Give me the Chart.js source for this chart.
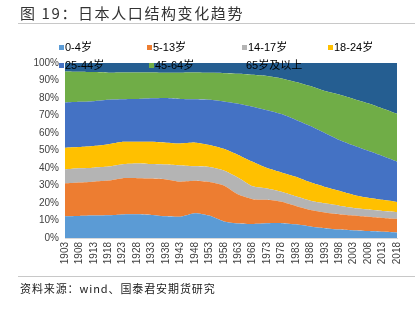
<!DOCTYPE html>
<html>
<head>
<meta charset="utf-8">
<script src="https://cdn.jsdelivr.net/npm/chart.js@4"></script>
<style>
    body { margin: 0; background: #ffffff; }
    #wrap { position: relative; width: 419px; height: 329px; overflow: hidden; }
    #title { position: absolute; left: 20px; top: 2px; font: 15px "Noto Sans CJK SC", sans-serif; color: #333333; letter-spacing: 1.6px; white-space: nowrap; }
    #topLine { position: absolute; left: 18px; top: 23px; width: 397px; height: 1px; background: #c8c8c8; }
    #bottomLine { position: absolute; left: 18px; top: 276px; width: 397px; height: 1px; background: #c8c8c8; }
    #source { position: absolute; left: 20px; top: 280px; font: 11px "Noto Sans CJK SC", sans-serif; color: #222222; letter-spacing: 0.9px; white-space: nowrap; }
    canvas { position: absolute; left: 0; top: 0; }
</style>
</head>
<body>
<div id="wrap">
    <canvas id="popChart" width="419" height="329"></canvas>
    <div id="title">图 19：日本人口结构变化趋势</div>
    <div id="topLine"></div>
    <div id="bottomLine"></div>
    <div id="source">资料来源：wind、国泰君安期货研究</div>
</div>
<script>
const years = ['1903','1908','1913','1918','1923','1928','1933','1938','1943','1948','1953','1958',
    '1963','1968','1973','1978','1983','1988','1993','1998','2003','2008','2013','2018']

const seriesNames = ['0-4岁', '5-13岁', '14-17岁', '18-24岁', '25-44岁', '45-64岁', '65岁及以上']

const age0to4 = [12.4,12.6,12.8,13.0,13.5,13.6,13.2,12.4,12.2,14.2,12.8,9.5,8.3,8.0,8.4,8.5,7.8,6.6,5.6,4.8,4.3,4.0,3.6,3.2]
const age5to13 = [18.8,19.1,19.4,19.8,20.7,20.6,20.8,21.1,20.0,18.5,19.2,20.5,16.5,14.2,13.4,12.2,10.5,9.4,9.0,8.8,8.5,8.1,7.9,7.8]
const age14to17 = [8.0,8.1,8.0,8.0,8.0,8.4,8.3,8.5,9.3,8.3,8.6,8.6,9.7,7.4,6.5,5.7,5.5,5.3,5.2,4.9,4.4,4.2,4.0,3.9]
const age18to24 = [12.4,12.2,12.4,12.8,12.8,12.4,12.7,12.5,12.5,13.5,12.6,12.4,13.0,14.0,11.7,11.1,11.2,10.5,9.4,8.5,7.4,6.7,6.3,5.7]
const age25to44 = [25.8,25.8,25.6,25.4,24.3,24.4,24.8,25.5,25.5,24.8,25.8,27.0,29.2,31.4,33.0,33.3,32.5,32.2,30.8,29.0,28.2,26.8,25.0,23.0]
const age45to64 = [17.8,17.2,16.6,15.5,15.3,15.2,14.8,14.4,15.0,15.3,15.4,16.2,17.2,18.3,19.6,20.4,21.7,22.8,24.0,26.0,26.7,27.2,27.2,27.4]
const age65plus = [4.8,5.0,5.2,5.5,5.4,5.4,5.4,5.6,5.5,5.4,5.6,5.8,6.1,6.7,7.4,8.8,10.8,13.2,16.0,18.0,20.5,23.0,26.0,29.0]

const yTicks = [0, 10, 20, 30, 40, 50, 60, 70, 80, 90, 100]

const allSeries = [age0to4, age5to13, age14to17, age18to24, age25to44, age45to64, age65plus]
const colors = ['#5b9bd5', '#ed7d31', '#b4b4b4', '#ffc000', '#4472c4', '#70ad47', '#255e91']

// legend drawn by hand, excel puts it in a fixed grid
const legendSpots = [[59, 48], [147, 48], [242, 48], [328, 48], [59, 66], [149, 66], [240, 66]]

const gridLegend = {
    id: 'gridLegend',
    afterDraw(chart) {
        var ctx = chart.ctx
        ctx.save()
        ctx.font = '11px "Liberation Sans", "Noto Sans CJK SC", sans-serif'
        ctx.textBaseline = 'middle'
        for (var i = 0; i < seriesNames.length; i++) {
            var p = legendSpots[i]
            ctx.fillStyle = colors[i]
            ctx.fillRect(p[0], p[1] - 3, 5, 5)
            ctx.fillStyle = '#000000'
            ctx.fillText(seriesNames[i], p[0] + 6, p[1])
        }
        ctx.restore()
    }
}

var datasets = []
for (var i = 0; i < allSeries.length; i++) {
    datasets.push({
        label: seriesNames[i],
        data: allSeries[i],
        backgroundColor: colors[i],
        borderColor: colors[i],
        borderWidth: 0,
        pointRadius: 0,
        fill: i == 0 ? 'origin' : '-1',
        tension: 0.2
    })
}

var ctx = document.getElementById('popChart')
new Chart(ctx, {
    type: 'line',
    data: {
        labels: years,
        datasets: datasets
    },
    options: {
        responsive: false,
        animation: false,
        layout: {
            padding: { left: 0, top: 63, right: 22, bottom: 0 }
        },
        scales: {
            x: {
                offset: false,
                grid: { display: false, drawTicks: false },
                border: { color: '#d9d9d9' },
                ticks: {
                    autoSkip: false,
                    maxRotation: 90,
                    minRotation: 90,
                    padding: 4,
                    color: '#404040',
                    font: { family: '"Liberation Sans", sans-serif', size: 10 }
                },
                afterFit: function(scale) { scale.height = 91 }
            },
            y: {
                stacked: true,
                min: 0,
                max: 100,
                afterBuildTicks: function(scale) {
                    scale.ticks = yTicks.map(function(v) { return { value: v } })
                },
                grid: { display: false, drawTicks: false },
                border: { color: '#d9d9d9' },
                ticks: {
                    padding: 6,
                    color: '#404040',
                    font: { family: '"Liberation Sans", sans-serif', size: 10 },
                    callback: function(v) { return v + '%' }
                },
                afterFit: function(scale) { scale.width = 65 }
            }
        },
        plugins: {
            legend: { display: false },
            tooltip: { enabled: false }
        }
    },
    plugins: [gridLegend]
})
</script>
</body>
</html>
